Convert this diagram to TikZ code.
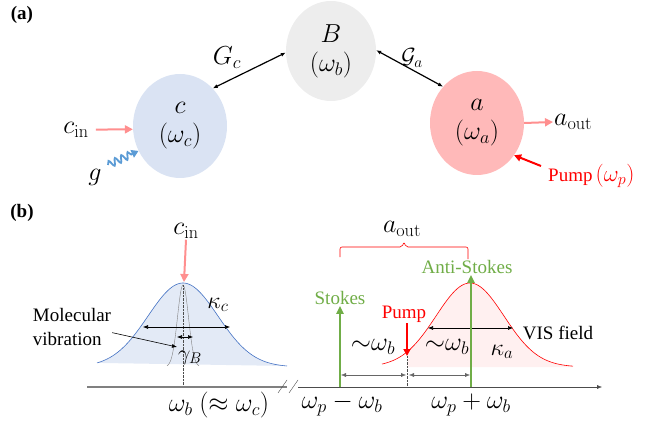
\RequirePackage{fix-cm}
\documentclass[tikz,border=0pt]{standalone}
\usepackage{amsmath,amssymb}
\usepackage[no-math]{fontspec}
\setmainfont{Liberation Serif}
\newfontfamily\tnr{Liberation Serif}
\usetikzlibrary{arrows.meta,positioning,shapes.geometric,decorations.pathmorphing}
\definecolor{cfill}{HTML}{DAE3F3}
\definecolor{bfill}{HTML}{EDEDED}
\definecolor{afill}{HTML}{FFB9B9}
\definecolor{pinkin}{HTML}{FF8F8F}
\definecolor{wavy}{HTML}{5B9BD5}
\definecolor{lineblue}{HTML}{4472C4}
\definecolor{bluefill}{HTML}{E3EAF6}
\definecolor{redfill}{HTML}{FFF0F0}
\definecolor{sgreen}{HTML}{70AD47}
\definecolor{axisgray}{HTML}{808080}

\begin{document}
\begin{tikzpicture}[x=1pt,y=-1pt,>={Latex[length=5pt,width=4pt]},
  mode/.style={ellipse,minimum width=94pt,minimum height=104pt,inner sep=0pt,align=center,font=\tnr\fontsize{26}{29}\selectfont},
  mlabel/.style={font=\tnr\fontsize{26}{28}\selectfont,inner sep=1pt},
  tlabel/.style={font=\tnr\fontsize{19}{24}\selectfont,inner sep=1pt},
  panel/.style={font=\tnr\bfseries\fontsize{19}{21}\selectfont,inner sep=1pt},
  pinkarrow/.style={pinkin,line width=2pt,-{Triangle[length=8pt,width=8pt]}},
  greenarrow/.style={sgreen,line width=2.2pt,-{Triangle[length=8pt,width=7pt]}}]
\useasboundingbox (0,0) rectangle (672,422);

% (a) three coupled modes
\node[panel] (la) at (22,15) {(a)};
\node[mode,fill=bfill,minimum width=90pt,minimum height=100pt] (B) at (331,51) {$B$\\$(\omega_b)$};
\node[mode,fill=cfill] (c) at (180,126) {$c$\\$(\omega_c)$};
\node[mode,fill=afill] (a) at (477,123) {$a$\\$(\omega_a)$};
\draw[<->,line width=1.2pt] (c.49) -- (B.182);
\draw[<->,line width=1.2pt] (B.1) -- (a.133);
\node[mlabel] (Gc) at (227,58) {$G_c$};
\node[mlabel,font=\fontsize{22}{24}\selectfont] (Ga) at (412,58) {$\mathcal{G}_a$};
\node[mlabel] (cin) at (76,129.6) {$c_{\mathrm{in}}$};
\draw[pinkarrow] ([xshift=6pt]cin.east) -- (c.184);
\node[mlabel] (g) at (95,177) {$g$};
\coordinate (gstart) at (108,165);
\draw[wavy,line width=1.8pt,-{Triangle[length=7pt,width=8pt]},decorate,
  decoration={snake,amplitude=3.5pt,segment length=7pt,post length=8pt}] (gstart) -- (c.211);
\node[mlabel,anchor=west] (aout) at (553,122) {$a_{\mathrm{out}}$};
\draw[pinkarrow] (a.east) -- (aout.west);
\node[tlabel,red,anchor=west] (pumpa) at (547,176) {Pump\,{\fontsize{23}{24}\selectfont$(\omega_p)$}};
\coordinate (pumpend) at (541,166);
\draw[red,line width=2pt,-{Triangle[length=7pt,width=7pt]}] (pumpend) -- (a.-41);

% (b) spectra
\node[panel] (lb) at (22,213) {(b)};
\fill[bluefill] plot[domain=97:287,samples=90] (\x,{367-84*exp(-0.5*((\x-183)/35)^2)}) -- cycle;
\draw[lineblue,semithick] plot[domain=97:287,samples=90] (\x,{367-84*exp(-0.5*((\x-183)/35)^2)});
\draw[gray,thin] plot[domain=167:199,samples=60] (\x,{367-82*exp(-0.5*((\x-183)/5.5)^2)});
\draw[densely dotted,black!70] (183,285) -- (183,387);
\node[mlabel] (cinb) at (186,231) {$c_{\mathrm{in}}$};
\coordinate (cpeak) at (184,282);
\draw[pinkarrow] (cinb.south) -- (cpeak);
\draw[<->,semithick] (143,327) -- (230,327);
\draw[<->,semithick] (177,337) -- (193,337);
\node[mlabel,font=\fontsize{24}{26}\selectfont] (kc) at (218,305) {$\kappa_c$};
\node[mlabel,font=\fontsize{22}{24}\selectfont] (gB) at (190,358) {$\gamma_B$};
\node[tlabel,align=left] (mv) at (72,327) {Molecular\\vibration};
\coordinate (vib) at (177,347);
\draw[->,semithick] (mv.-8) -- (vib);

\fill[redfill] (408,367) -- plot[domain=408:573,samples=80] (\x,{367-84*exp(-0.5*((\x-470)/34)^2)}) -- (573,367) -- cycle;
\draw[red,semithick] plot[domain=382:573,samples=90] (\x,{367-84*exp(-0.5*((\x-470)/34)^2)});
\draw[<->,semithick] (428,328) -- (513,328);
\node[mlabel,font=\fontsize{24}{26}\selectfont] (ka) at (502,352) {$\kappa_a$};
\node[tlabel] (vis) at (558,333) {VIS field};

\coordinate (sbase) at (340,387);
\coordinate (abase) at (471,387);
\node[tlabel,sgreen] (stokes) at (340,298) {Stokes};
\node[tlabel,sgreen] (antis) at (467,267) {Anti-Stokes};
\draw[greenarrow] (sbase) -- (stokes.south);
\draw[greenarrow] (abase) -- (abase |- antis.south);
\node[tlabel,red] (pumpb) at (404,314) {Pump};
\coordinate (ptip) at (407,356);
\draw[red,line width=2pt,-{Triangle[length=7pt,width=7pt]}] (pumpb.south -| ptip) -- (ptip);
\draw[densely dotted,black!70] (ptip) -- (407,387);
\draw[<->,gray!80!black] (341,375) -- (406,375);
\draw[<->,gray!80!black] (409,375) -- (470,375);
\node[mlabel] (sl) at (373,347) {$\mathord{\sim}\omega_b$};
\node[mlabel] (sr) at (447,347) {$\mathord{\sim}\omega_b$};
\draw[red,semithick,rounded corners=2pt] (340,257) -- (340,247) -- (402,247) -- (404,242) -- (406,247) -- (468,247) -- (468,259);
\node[mlabel] (aoutb) at (402,229) {$a_{\mathrm{out}}$};

% frequency axis with break
\draw[axisgray,line width=1.6pt] (87,387) -- (287,387);
\draw[black!70] (278,393) -- (287,380);
\draw[black!70] (289,393) -- (298,380);
\draw[black!70,->] (298,387) -- (602,387);
\node[mlabel] (wb) at (219,405) {$\omega_b\ (\approx\omega_c)$};
\node[mlabel] (wm) at (342,405) {$\omega_p-\omega_b$};
\node[mlabel] (wp) at (471,405) {$\omega_p+\omega_b$};
\end{tikzpicture}
\end{document}
